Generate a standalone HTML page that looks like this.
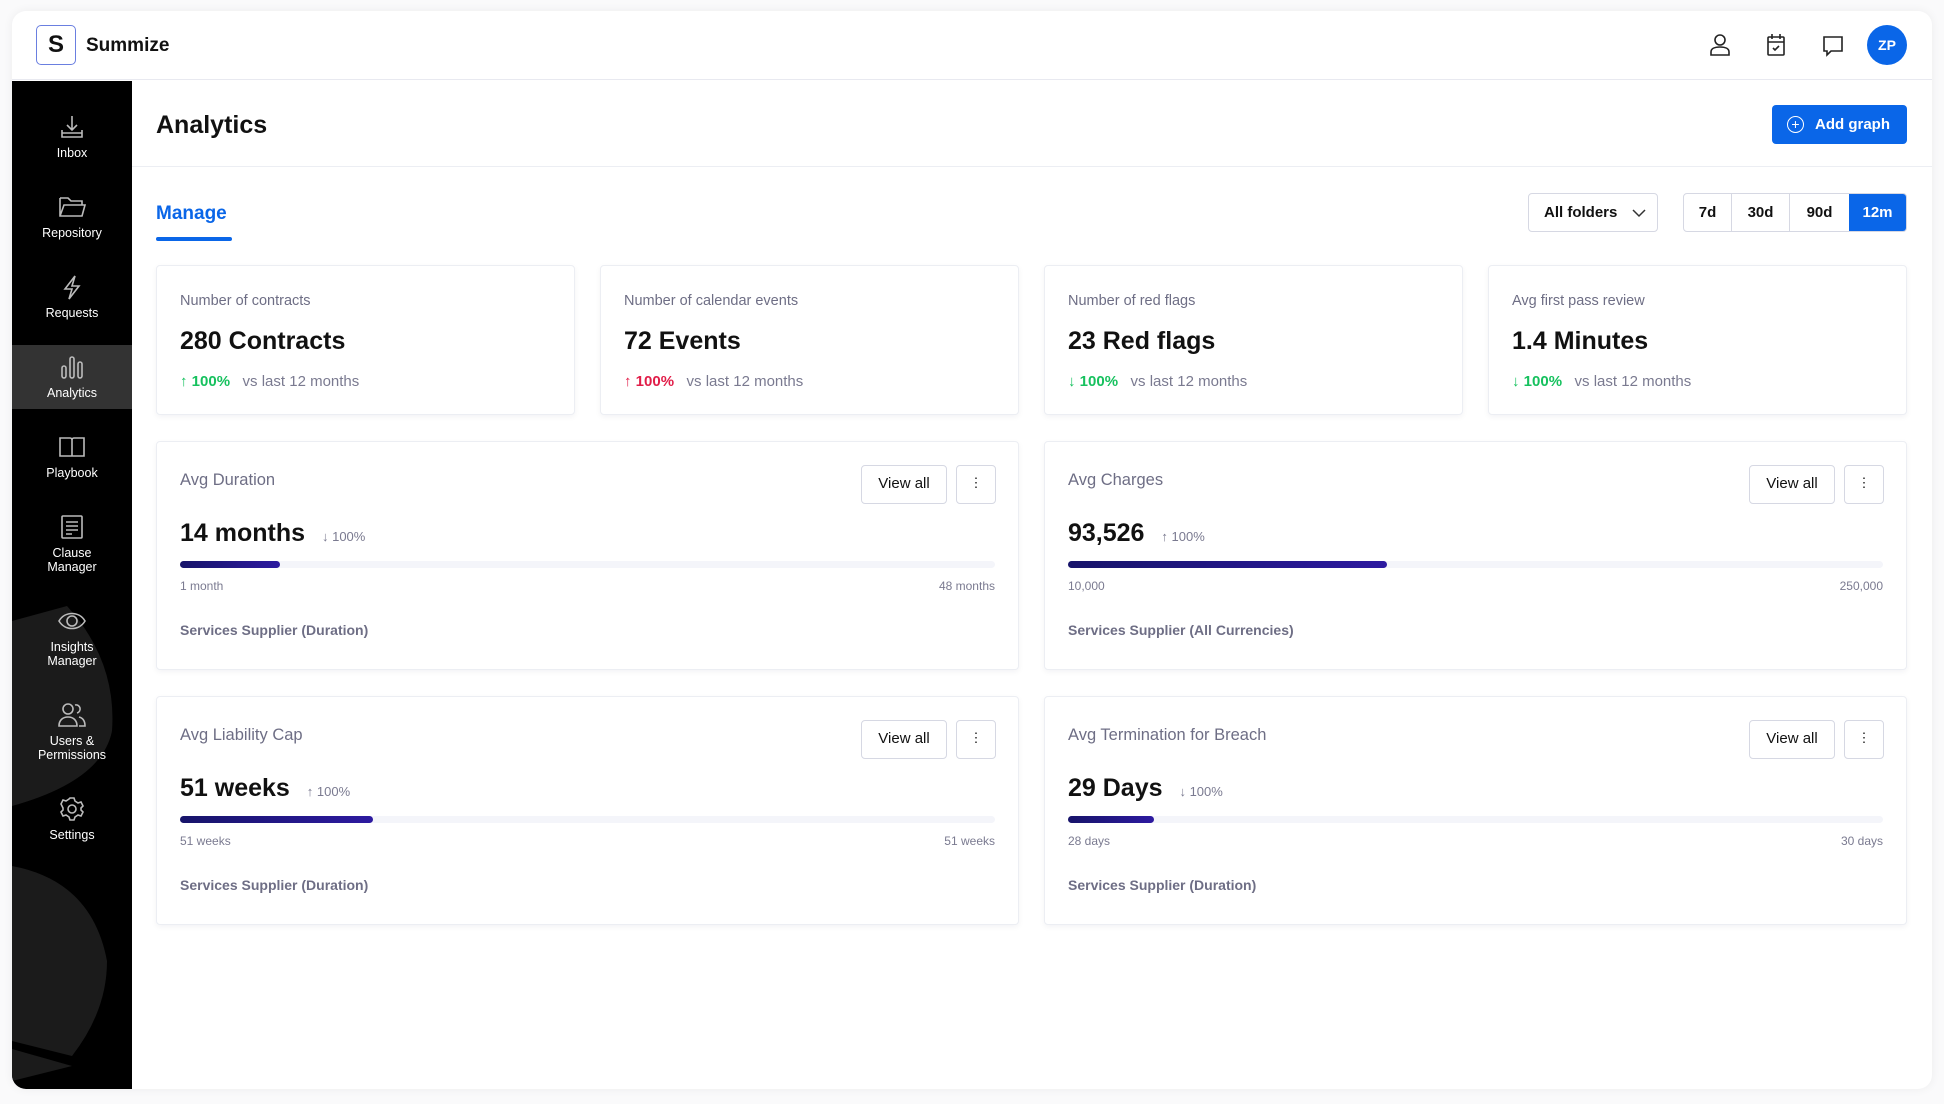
<!DOCTYPE html>
<html><head><meta charset="utf-8">
<style>
*{box-sizing:border-box;margin:0;padding:0}
body{width:1944px;height:1104px;background:#fafafb;font-family:"Liberation Sans",sans-serif;color:#111;position:relative;overflow:hidden}
.app{position:absolute;left:12px;top:11px;width:1920px;height:1078px;background:#fff;border-radius:14px;box-shadow:0 0 10px rgba(0,0,0,.06);overflow:hidden}
.abs{position:absolute}
.hdr{position:absolute;left:0;top:0;width:1920px;height:69px;border-bottom:1px solid #e8e9f0}
.side{position:absolute;left:0;top:70px;width:120px;height:1008px;background:#000;overflow:hidden}
.si{position:absolute;left:0;width:120px;text-align:center;color:#fff;font-size:12.5px;line-height:14px}
.si svg{display:block;margin:0 auto 6px}
.card{position:absolute;background:#fff;border:1px solid #eceef3;border-radius:4px;box-shadow:0 2px 6px rgba(20,20,60,.05)}
.lbl{position:absolute;left:23px;font-size:14.5px;color:#6e6e85;line-height:20px}
.val{position:absolute;left:23px;font-size:25px;font-weight:bold;line-height:30px;color:#111}
.dl{position:absolute;left:23px;font-size:15px;line-height:20px;color:#7a7a90}
.btn{position:absolute;border:1px solid #d6d8e3;border-radius:4px;background:#fff;font-size:15px;text-align:center;line-height:36px;color:#111}
.track{position:absolute;left:23px;right:23px;height:7px;border-radius:4px;background:#f4f5fa}
.fill{height:7px;border-radius:4px;background:linear-gradient(90deg,#17146a,#2d1aa0)}
.sm{position:absolute;font-size:12px;color:#7a7a90;line-height:16px}
.ft{position:absolute;left:23px;font-size:14px;font-weight:bold;color:#6e6e85;line-height:20px}
</style></head><body>
<div class="app">
 <div class="hdr">
  <div class="abs" style="left:24px;top:14px;width:40px;height:40px;border:1.5px solid #6a7fe0;border-radius:5px;text-align:center;line-height:38px;font-size:24px;font-weight:bold">S</div>
  <div class="abs" style="left:74px;top:23px;font-size:19px;font-weight:bold;line-height:24px">Summize</div>
  <svg class="abs" style="left:1697px;top:22px" width="22" height="24" viewBox="0 0 22 24" fill="none" stroke="#222" stroke-width="1.6"><circle cx="11" cy="7" r="5"/><path d="M2 22v-3c0-3 3-5 9-5s9 2 9 5v3z"/></svg>
  <svg class="abs" style="left:1754px;top:22px" width="20" height="24" viewBox="0 0 20 24" fill="none" stroke="#222" stroke-width="1.6"><rect x="2" y="4" width="16" height="18" rx="1"/><path d="M2 9h16M6 1v5M14 1v5M7 15l2 2 4-4"/></svg>
  <svg class="abs" style="left:1810px;top:24px" width="22" height="22" viewBox="0 0 22 22" fill="none" stroke="#222" stroke-width="1.6"><path d="M2 2h18v14H9l-4 4v-4H2z"/></svg>
  <div class="abs" style="left:1855px;top:14px;width:40px;height:40px;border-radius:50%;background:#0a66e8;color:#fff;font-weight:bold;font-size:14px;text-align:center;line-height:40px">ZP</div>
 </div>
 <div class="side">
  <svg class="abs" style="left:0;top:0" width="120" height="1008"><path d="M0 540 L55 525 Q105 580 100 650 Q90 700 0 725Z" fill="#1b1b1b"/><path d="M0 785 Q80 800 95 880 Q95 930 60 975 L0 960Z" fill="#1b1b1b"/><path d="M0 968 L60 985 L0 1000Z" fill="#1b1b1b"/></svg>
  <div class="abs" style="left:0;top:264px;width:120px;height:64px;background:#333"></div>
  <div class="si" style="top:33px"><svg width="26" height="26" viewBox="0 0 26 26" fill="none" stroke="#bbb" stroke-width="1.6"><path d="M13 2v14M8 11l5 5 5-5M3 16v7h20v-7M3 19h20"/></svg>Inbox</div>
  <div class="si" style="top:113px"><svg width="28" height="26" viewBox="0 0 28 26" fill="none" stroke="#bbb" stroke-width="1.6"><path d="M2 4h8l3 3h11v4M2 4v18h22l3-11H6L2 22"/></svg>Repository</div>
  <div class="si" style="top:193px"><svg width="26" height="26" viewBox="0 0 26 26" fill="none" stroke="#bbb" stroke-width="1.6"><path d="M16 2L6 15h7l-3 10 10-13h-7z"/></svg>Requests</div>
  <div class="si" style="top:273px"><svg width="26" height="26" viewBox="0 0 26 26" fill="none" stroke="#bbb" stroke-width="1.6"><rect x="3" y="12" width="4" height="12" rx="2"/><rect x="11" y="3" width="4" height="21" rx="2"/><rect x="19" y="8" width="4" height="16" rx="2"/></svg>Analytics</div>
  <div class="si" style="top:353px"><svg width="28" height="26" viewBox="0 0 28 26" fill="none" stroke="#bbb" stroke-width="1.6"><path d="M2 4h10c2 0 2 2 2 2v16H2zM26 4H16c-2 0-2 2-2 2v16h12z"/></svg>Playbook</div>
  <div class="si" style="top:433px"><svg width="26" height="26" viewBox="0 0 26 26" fill="none" stroke="#bbb" stroke-width="1.6"><rect x="3" y="2" width="20" height="22" rx="1"/><path d="M7 8h12M7 12h12M7 16h12M7 20h6"/></svg>Clause<br>Manager</div>
  <div class="si" style="top:527px"><svg width="30" height="26" viewBox="0 0 30 26" fill="none" stroke="#bbb" stroke-width="1.6"><path d="M2 13c6-10 20-10 26 0-6 10-20 10-26 0z"/><circle cx="15" cy="13" r="5"/></svg>Insights<br>Manager</div>
  <div class="si" style="top:621px"><svg width="30" height="26" viewBox="0 0 30 26" fill="none" stroke="#bbb" stroke-width="1.6"><circle cx="11" cy="7" r="5"/><path d="M2 24c0-6 4-9 9-9s9 3 9 9zM18 3a4 4 0 1 1 2 8M22 15c4 1 6 4 6 9h-6"/></svg>Users &amp;<br>Permissions</div>
  <div class="si" style="top:715px"><svg width="26" height="26" viewBox="0 0 26 26" fill="none" stroke="#bbb" stroke-width="1.6"><circle cx="13" cy="13" r="4"/><path d="M11 2h4l1 3 3 2 3-1 2 4-2 2v2l2 2-2 4-3-1-3 2-1 3h-4l-1-3-3-2-3 1-2-4 2-2v-2L2 8l2-4 3 1 3-2z"/></svg>Settings</div>
 </div>
 <div class="abs" style="left:120px;top:70px;width:1800px;height:86px;border-bottom:1px solid #eceef3"></div>
 <div class="abs" style="left:144px;top:99px;font-size:25px;font-weight:bold;line-height:30px">Analytics</div>
 <div class="abs" style="left:1760px;top:94px;width:135px;height:39px;background:#0a66e8;border-radius:4px;color:#fff;font-size:15px;font-weight:bold;line-height:39px;padding-left:43px;white-space:nowrap">Add graph<div class="abs" style="left:15px;top:11px;width:17px;height:17px;border:1.5px solid #fff;border-radius:50%;text-align:center;line-height:14px;font-size:14px;font-weight:normal">+</div></div>
 <div class="abs" style="left:144px;top:192px;font-size:19px;font-weight:bold;color:#0a66e8;line-height:22px">Manage</div>
 <div class="abs" style="left:144px;top:226px;width:76px;height:4px;border-radius:2px;background:#0a66e8"></div>
 <div class="abs" style="left:1516px;top:182px;width:130px;height:39px;border:1px solid #d6d8e3;border-radius:4px;font-size:15px;font-weight:bold;line-height:37px;padding-left:15px">All folders<svg class="abs" style="left:103px;top:15px" width="14" height="9" viewBox="0 0 14 9" fill="none" stroke="#333" stroke-width="1.5"><path d="M1 1l6 6 6-6"/></svg></div>
 <div class="abs" style="left:1671px;top:182px;width:224px;height:39px;border:1px solid #d6d8e3;border-radius:4px;overflow:hidden;font-size:15px;font-weight:bold;line-height:37px;display:flex">
  <div style="width:48px;text-align:center;border-right:1px solid #d6d8e3">7d</div>
  <div style="width:58px;text-align:center;border-right:1px solid #d6d8e3">30d</div>
  <div style="width:59px;text-align:center">90d</div>
  <div style="flex:1;text-align:center;background:#0a66e8;color:#fff">12m</div>
 </div>

 <div class="card" style="left:144px;top:254px;width:419px;height:150px"><div class="lbl" style="top:25px">Number of contracts</div><div class="val" style="top:60px">280 Contracts</div><div class="dl" style="top:106px"><span style="color:#16c15e;font-weight:bold">↑ 100%</span>&nbsp;&nbsp; vs last 12 months</div></div>
 <div class="card" style="left:588px;top:254px;width:419px;height:150px"><div class="lbl" style="top:25px">Number of calendar events</div><div class="val" style="top:60px">72 Events</div><div class="dl" style="top:106px"><span style="color:#e11d48;font-weight:bold">↑ 100%</span>&nbsp;&nbsp; vs last 12 months</div></div>
 <div class="card" style="left:1032px;top:254px;width:419px;height:150px"><div class="lbl" style="top:25px">Number of red flags</div><div class="val" style="top:60px">23 Red flags</div><div class="dl" style="top:106px"><span style="color:#16c15e;font-weight:bold">↓ 100%</span>&nbsp;&nbsp; vs last 12 months</div></div>
 <div class="card" style="left:1476px;top:254px;width:419px;height:150px"><div class="lbl" style="top:25px">Avg first pass review</div><div class="val" style="top:60px">1.4 Minutes</div><div class="dl" style="top:106px"><span style="color:#16c15e;font-weight:bold">↓ 100%</span>&nbsp;&nbsp; vs last 12 months</div></div>

 <div class="card" style="left:144px;top:430px;width:863px;height:229px">
  <div class="lbl" style="top:28px;font-size:16.5px">Avg Duration</div>
  <div class="btn" style="left:704px;top:23px;width:86px;height:39px">View all</div><div class="btn" style="left:799px;top:23px;width:40px;height:39px;font-size:13px;line-height:34px">⋮</div>
  <div class="val" style="top:76px">14 months <span style="font-size:13px;font-weight:normal;color:#7a7a90;margin-left:10px">↓ 100%</span></div>
  <div class="track" style="top:119px"><div class="fill" style="width:12.3%"></div></div>
  <div class="sm" style="left:23px;top:136px">1 month</div><div class="sm" style="right:23px;top:136px">48 months</div>
  <div class="ft" style="top:178px">Services Supplier (Duration)</div>
 </div>
 <div class="card" style="left:1032px;top:430px;width:863px;height:229px">
  <div class="lbl" style="top:28px;font-size:16.5px">Avg Charges</div>
  <div class="btn" style="left:704px;top:23px;width:86px;height:39px">View all</div><div class="btn" style="left:799px;top:23px;width:40px;height:39px;font-size:13px;line-height:34px">⋮</div>
  <div class="val" style="top:76px">93,526 <span style="font-size:13px;font-weight:normal;color:#7a7a90;margin-left:10px">↑ 100%</span></div>
  <div class="track" style="top:119px"><div class="fill" style="width:39.2%"></div></div>
  <div class="sm" style="left:23px;top:136px">10,000</div><div class="sm" style="right:23px;top:136px">250,000</div>
  <div class="ft" style="top:178px">Services Supplier (All Currencies)</div>
 </div>
 <div class="card" style="left:144px;top:685px;width:863px;height:229px">
  <div class="lbl" style="top:28px;font-size:16.5px">Avg Liability Cap</div>
  <div class="btn" style="left:704px;top:23px;width:86px;height:39px">View all</div><div class="btn" style="left:799px;top:23px;width:40px;height:39px;font-size:13px;line-height:34px">⋮</div>
  <div class="val" style="top:76px">51 weeks <span style="font-size:13px;font-weight:normal;color:#7a7a90;margin-left:10px">↑ 100%</span></div>
  <div class="track" style="top:119px"><div class="fill" style="width:23.7%"></div></div>
  <div class="sm" style="left:23px;top:136px">51 weeks</div><div class="sm" style="right:23px;top:136px">51 weeks</div>
  <div class="ft" style="top:178px">Services Supplier (Duration)</div>
 </div>
 <div class="card" style="left:1032px;top:685px;width:863px;height:229px">
  <div class="lbl" style="top:28px;font-size:16.5px">Avg Termination for Breach</div>
  <div class="btn" style="left:704px;top:23px;width:86px;height:39px">View all</div><div class="btn" style="left:799px;top:23px;width:40px;height:39px;font-size:13px;line-height:34px">⋮</div>
  <div class="val" style="top:76px">29 Days <span style="font-size:13px;font-weight:normal;color:#7a7a90;margin-left:10px">↓ 100%</span></div>
  <div class="track" style="top:119px"><div class="fill" style="width:10.5%"></div></div>
  <div class="sm" style="left:23px;top:136px">28 days</div><div class="sm" style="right:23px;top:136px">30 days</div>
  <div class="ft" style="top:178px">Services Supplier (Duration)</div>
 </div>
</div>
</body></html>
